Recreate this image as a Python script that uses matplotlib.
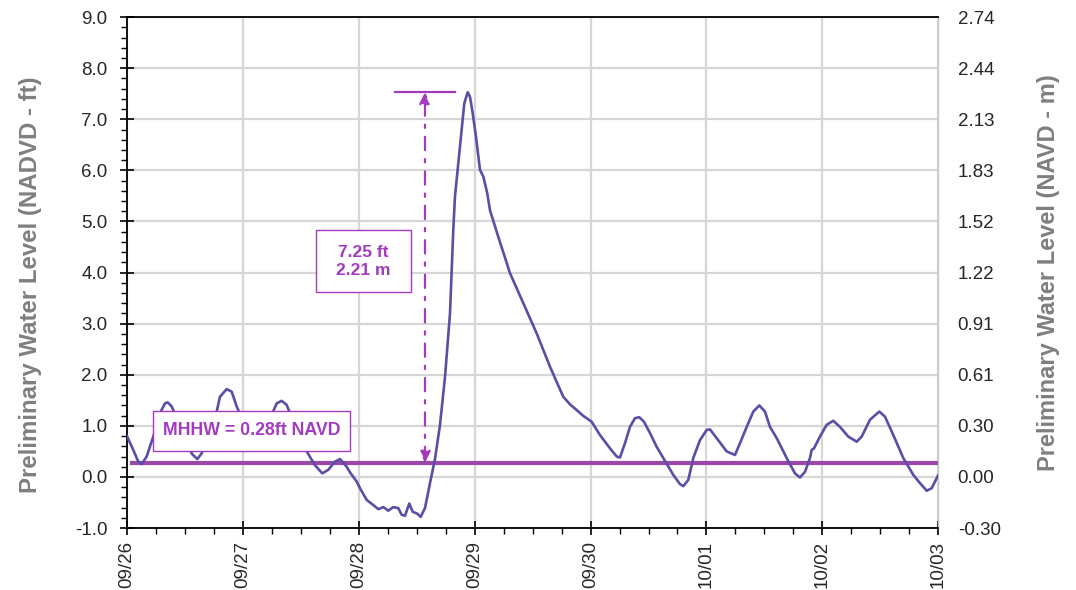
import matplotlib
matplotlib.use("Agg")
import matplotlib.pyplot as plt
import matplotlib.dates as mdates
from matplotlib.patches import Rectangle
from matplotlib.ticker import MultipleLocator, FuncFormatter
import pandas as pd

# Water level record: hours after 2022-09-26 00:00 and level in ft (NAVD)
hours = [0.00, 1.30, 2.34, 3.04, 4.08, 5.45, 6.83, 7.87, 8.43, 9.26, 10.56, 12.01,
         13.46, 14.56, 15.47, 16.98, 18.58, 19.26, 20.65, 21.68, 22.72, 24.44,
         26.92, 29.20, 31.00, 32.04, 33.07, 35.00, 37.21, 38.93, 40.44, 41.69,
         43.07, 44.11, 45.50, 46.18, 47.57, 48.25, 49.64, 51.01, 52.04, 53.08,
         54.11, 55.15, 56.18, 56.89, 57.57, 58.46, 59.16, 60.12, 60.82, 61.71,
         62.75, 63.78, 64.82, 65.85, 66.89, 67.57, 67.92, 68.61, 69.31, 69.85,
         70.55, 71.03, 71.59, 72.27, 73.10, 73.79, 74.61, 75.17, 76.89, 79.31,
         82.07, 84.84, 87.59, 88.98, 90.35, 91.74, 93.12, 94.43, 96.23, 97.95,
         100.02, 101.41, 102.09, 103.12, 104.16, 105.19, 106.09, 107.06, 108.30,
         109.69, 111.06, 113.13, 114.51, 115.20, 116.23, 117.27, 118.65, 120.04,
         120.73, 122.11, 124.19, 125.90, 126.94, 128.33, 129.70, 130.94, 132.11,
         133.15, 134.54, 136.61, 138.33, 139.36, 140.40, 141.43, 141.79, 142.26,
         143.50, 144.89, 146.26, 147.64, 149.37, 151.11, 152.14, 153.86, 155.79,
         156.97, 158.69, 160.76, 162.83, 164.21, 165.61, 166.64, 168.00]
level_ft = [0.80, 0.53, 0.30, 0.25, 0.40, 0.79, 1.25, 1.44, 1.46, 1.38, 1.10, 0.75,
            0.45, 0.35, 0.46, 0.85, 1.28, 1.57, 1.72, 1.67, 1.38, 1.00,
            0.75, 1.05, 1.44, 1.49, 1.41, 0.95, 0.50, 0.23, 0.07, 0.14,
            0.30, 0.35, 0.20, 0.09, -0.09, -0.22, -0.45, -0.55, -0.63, -0.59,
            -0.66, -0.59, -0.61, -0.74, -0.76, -0.52, -0.68, -0.72, -0.78, -0.61,
            -0.12, 0.35, 1.02, 1.95, 3.20, 4.83, 5.49, 6.14, 6.79, 7.31,
            7.53, 7.44, 7.12, 6.66, 6.01, 5.88, 5.55, 5.22, 4.70, 3.99,
            3.40, 2.81, 2.16, 1.86, 1.57, 1.42, 1.31, 1.20, 1.08, 0.82,
            0.56, 0.40, 0.38, 0.66, 0.98, 1.15, 1.17, 1.08, 0.86,
            0.59, 0.37, 0.04, -0.14, -0.18, -0.06, 0.37, 0.72, 0.92,
            0.93, 0.76, 0.50, 0.43, 0.66, 0.98, 1.28, 1.40, 1.28,
            0.98, 0.76, 0.37, 0.07, -0.01, 0.10, 0.37, 0.53, 0.56,
            0.79, 1.02, 1.10, 0.98, 0.79, 0.69, 0.79, 1.12, 1.28,
            1.18, 0.82, 0.37, 0.04, -0.12, -0.27, -0.22, 0.04]

mhhw_ft = 0.28
surge_ft = 7.25
surge_m = 2.21
ft_to_m = 0.3048

start = pd.Timestamp("2022-09-26")
times = start + pd.to_timedelta(hours, unit="h")


def at(h):
    return start + pd.Timedelta(hours=h)


plt.rcParams["font.family"] = ["Liberation Sans", "DejaVu Sans"]

fig = plt.figure(figsize=(10.76, 5.90), dpi=100)
ax = fig.add_axes([0.118, 0.105, 0.754, 0.866])

grid_c = "#d6d6d6"
purple = "#a23bbf"
mhhw_c = "#9b47a8"
line_c = "#5a4ea6"
label_c = "#7f7f7f"
tick_c = "#262626"

ax.set_ylim(-1.0, 9.0)
ax.set_xlim(start, start + pd.Timedelta(days=7))
ax.yaxis.set_major_locator(MultipleLocator(1.0))
ax.yaxis.set_minor_locator(MultipleLocator(0.2))
ax.yaxis.set_major_formatter(FuncFormatter(lambda v, p: f"{v:.1f}"))
ax.xaxis.set_major_locator(mdates.DayLocator())
ax.xaxis.set_minor_locator(mdates.HourLocator(byhour=[6, 12, 18]))
ax.xaxis.set_major_formatter(mdates.DateFormatter("%m/%d"))
ax.grid(True, which="major", color=grid_c, linewidth=1.6, zorder=0)
ax.set_axisbelow(True)

for s in ("left", "bottom", "top"):
    ax.spines[s].set_color("black")
    ax.spines[s].set_linewidth(1.3)
ax.spines["right"].set_color("#c8c8c8")
ax.spines["right"].set_linewidth(1.0)

ax.tick_params(axis="y", which="major", direction="inout", length=10, width=1.2,
               labelsize=13.5, pad=9, labelcolor=tick_c)
ax.tick_params(axis="y", which="minor", direction="out", length=4, width=1.0)
ax.tick_params(axis="x", which="major", direction="inout", length=10, width=1.2,
               labelsize=13.5, pad=4, labelrotation=90, labelcolor=tick_c)
ax.tick_params(axis="x", which="minor", direction="out", length=4, width=1.0)

ax.set_ylabel("Preliminary Water Level (NADVD - ft)", fontsize=17.3,
              fontweight="bold", color=label_c)
ax.yaxis.set_label_coords(-0.105, 0.477)

# MHHW datum line
ax.plot([at(1.0), start + pd.Timedelta(days=7)], [mhhw_ft, mhhw_ft],
        color=mhhw_c, linewidth=3.0, zorder=3)

# Observed water level
ax.plot(times, level_ft, color=line_c, linewidth=1.9, zorder=4,
        solid_joinstyle="round")

# Peak surge marker and dimension arrow
peak_ft = mhhw_ft + surge_ft
ax.plot([at(55.5), at(67.9)], [peak_ft, peak_ft], color=purple, linewidth=1.6,
        zorder=5)
ax.annotate("", xy=(at(61.71), peak_ft), xytext=(at(61.71), mhhw_ft),
            arrowprops=dict(arrowstyle="<|-|>", color=purple, linewidth=1.6,
                            linestyle=(0, (6, 4, 1.5, 4)), mutation_scale=17,
                            shrinkA=0, shrinkB=0), zorder=5)

# Surge value box
x0, x1 = mdates.date2num(at(39.14)), mdates.date2num(at(58.81))
ax.add_patch(Rectangle((x0, 3.62), x1 - x0, 1.21, facecolor="white",
                       edgecolor=purple, linewidth=1.0, zorder=6))
ax.text(at(48.97), 4.22, f"{surge_ft:.2f} ft\n{surge_m:.2f} m",
        ha="center", va="center", fontsize=12.5, fontweight="bold", color=purple,
        linespacing=1.2, zorder=7)

# MHHW label box
x0, x1 = mdates.date2num(at(5.38)), mdates.date2num(at(46.18))
ax.add_patch(Rectangle((x0, 0.51), x1 - x0, 0.78, facecolor="white",
                       edgecolor=purple, linewidth=1.0, zorder=6))
ax.text(at(25.78), 0.90, f"MHHW = {mhhw_ft:.2f}ft NAVD",
        ha="center", va="center", fontsize=12.8, fontweight="bold", color=purple,
        zorder=7)

# Metric axis on the right
ax2 = ax.twinx()
ax2.set_ylim(ax.get_ylim())
ax2.yaxis.set_major_locator(MultipleLocator(1.0))
ax2.yaxis.set_major_formatter(FuncFormatter(lambda v, p: f"{v * ft_to_m:.2f}"))
ax2.tick_params(axis="y", which="both", length=0, labelsize=13.5, pad=14,
                labelcolor=tick_c)
for s in ax2.spines.values():
    s.set_visible(False)
ax2.set_ylabel("Preliminary Water Level (NAVD - m)", fontsize=17,
               fontweight="bold", color=label_c, labelpad=26)

fig.savefig("out.png", dpi=100, facecolor="white")
